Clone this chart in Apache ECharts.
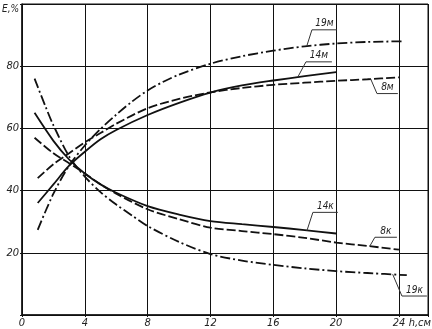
<!DOCTYPE html>
<html><head><meta charset="utf-8">
<script src="https://cdn.jsdelivr.net/npm/echarts@6/dist/echarts.min.js"></script>
<style>html,body{margin:0;padding:0;background:#fff}#c{width:432px;height:329px}</style>
</head><body><div id="c"></div>
<script>
// Data (h, cm -> E, %)
var x19m = [1, 2, 3, 4, 5, 6, 7, 8, 9, 10, 12, 14, 16, 18, 20, 22, 24.2];
var y19m = [27.4, 39, 48, 54.5, 59.8, 64.4, 68.6, 72.2, 75, 77.3, 80.8, 83.2, 85, 86.4, 87.3, 87.8, 88];
var x8m = [1, 2, 3, 4, 5, 6, 8, 10, 12, 14, 16, 18, 20, 22, 24];
var y8m = [44, 48.5, 52, 55.5, 58.5, 61.5, 66.5, 69.5, 71.6, 73, 74, 74.7, 75.3, 75.8, 76.4];
var x14m = [1, 2, 3, 4, 5, 6, 8, 10, 12, 14, 16, 18, 20];
var y14m = [36, 42, 48, 52.5, 56.5, 59.5, 64.3, 68.2, 71.5, 73.8, 75.4, 76.8, 78.1];
var x19k = [0.8, 1.5, 2, 3, 4, 5, 6, 7, 8, 10, 12, 14, 16, 18, 20, 22, 24.5];
var y19k = [76, 67, 61, 51, 44.5, 39.5, 35.5, 32, 28.6, 23.5, 19.6, 17.5, 16.1, 15, 14.1, 13.5, 12.8];
var x14k = [0.8, 2, 3, 4, 5, 6, 8, 10, 12, 14, 16, 18, 20];
var y14k = [65, 56, 50, 45.5, 42, 39.3, 35, 32.3, 30.2, 29.2, 28.3, 27.3, 26.2];
var x8k = [0.8, 2, 3, 4, 5, 6, 8, 10, 12, 14, 16, 18, 20, 22, 24];
var y8k = [57, 52, 48.8, 45.5, 42, 39, 34, 30.8, 28.1, 27, 26, 24.8, 23.3, 22.2, 21];
var xTicks = [0, 4, 8, 12, 16, 20, 24];
var yTicks = [20, 40, 60, 80];
// annotation labels: name, curve point, elbow, end of underline (data coords)
var labelNames = ['19м', '14м', '8м', '14к', '8к', '19к'];
var labelFrom = [[18.14, 86.6], [17.57, 76.6], [22.2, 75.9], [18.14, 27.1], [22.15, 22.2], [23.6, 13.1]];
var labelElbow = [[18.46, 91.7], [18.08, 81.4], [22.6, 71.2], [18.52, 33.0], [22.47, 25.0], [24.19, 6.1]];
var labelEnd = [[20.05, 91.7], [19.73, 81.4], [23.93, 71.2], [20.11, 33.0], [23.87, 25.0], [25.78, 6.1]];

function pairs(xs, ys) { return xs.map(function (x, i) { return [x, ys[i]]; }); }
var dashStyle = [9, 3];
var dashDot = [10, 3, 2, 3];
function mk(name, xs, ys, type) {
  return { name: name, type: 'line', data: pairs(xs, ys), smooth: 0.3, symbol: 'none',
    lineStyle: { color: '#111', width: 1.8, type: type }, z: 5 };
}
var font = 'DejaVu Sans Condensed, DejaVu Sans, sans-serif';
var chart = echarts.init(document.getElementById('c'), null, { renderer: 'canvas' });
chart.setOption({
  animation: false,
  grid: { left: 22, right: 4, top: 4, bottom: 13, show: true, borderColor: '#111', borderWidth: 1 },
  xAxis: { type: 'value', min: 0, max: 25.85, interval: 4,
    axisLine: { show: true, onZero: false, lineStyle: { color: '#111', width: 1.5 } },
    axisTick: { show: true, length: 2, lineStyle: { color: '#111' } },
    splitLine: { show: true, lineStyle: { color: '#111', width: 1 } },
    axisLabel: { margin: 3, color: '#222', fontSize: 11, fontStyle: 'italic', fontFamily: font,
      formatter: function (v) { return xTicks.indexOf(v) >= 0 ? String(v) : ''; } } },
  yAxis: { type: 'value', min: 0, max: 100, interval: 20,
    axisLine: { show: true, lineStyle: { color: '#111', width: 1.5 } },
    axisTick: { show: true, length: 2, lineStyle: { color: '#111' } },
    splitLine: { show: true, lineStyle: { color: '#111', width: 1 } },
    axisLabel: { margin: 3, color: '#222', fontSize: 11, fontStyle: 'italic', fontFamily: font,
      formatter: function (v) { return yTicks.indexOf(v) >= 0 ? String(v) : ''; } } },
  series: [
    mk('19м', x19m, y19m, dashDot),
    mk('8м', x8m, y8m, dashStyle),
    mk('14м', x14m, y14m, 'solid'),
    mk('19к', x19k, y19k, dashDot),
    mk('14к', x14k, y14k, 'solid'),
    mk('8к', x8k, y8k, dashStyle)
  ]
});
var g = [];
function px(p) { return chart.convertToPixel({ gridIndex: 0 }, p); }
labelNames.forEach(function (n, i) {
  var a = px(labelFrom[i]), b = px(labelElbow[i]), c = px(labelEnd[i]);
  g.push({ type: 'polyline', shape: { points: [a, b, c] }, style: { stroke: '#333', lineWidth: 1, fill: null }, z: 10 });
  g.push({ type: 'text', x: (b[0] + c[0]) / 2, y: b[1] - 1, style: { text: n, fill: '#222', font: 'italic 10px ' + font, align: 'center', verticalAlign: 'bottom' }, z: 10 });
});
g.push({ type: 'text', left: 2, top: 4, style: { text: 'E,%', fill: '#222', font: 'italic 10px ' + font } });
g.push({ type: 'text', right: 1, bottom: 0, style: { text: 'h,см', fill: '#222', font: 'italic 11px ' + font } });
chart.setOption({ graphic: g });
</script></body></html>
